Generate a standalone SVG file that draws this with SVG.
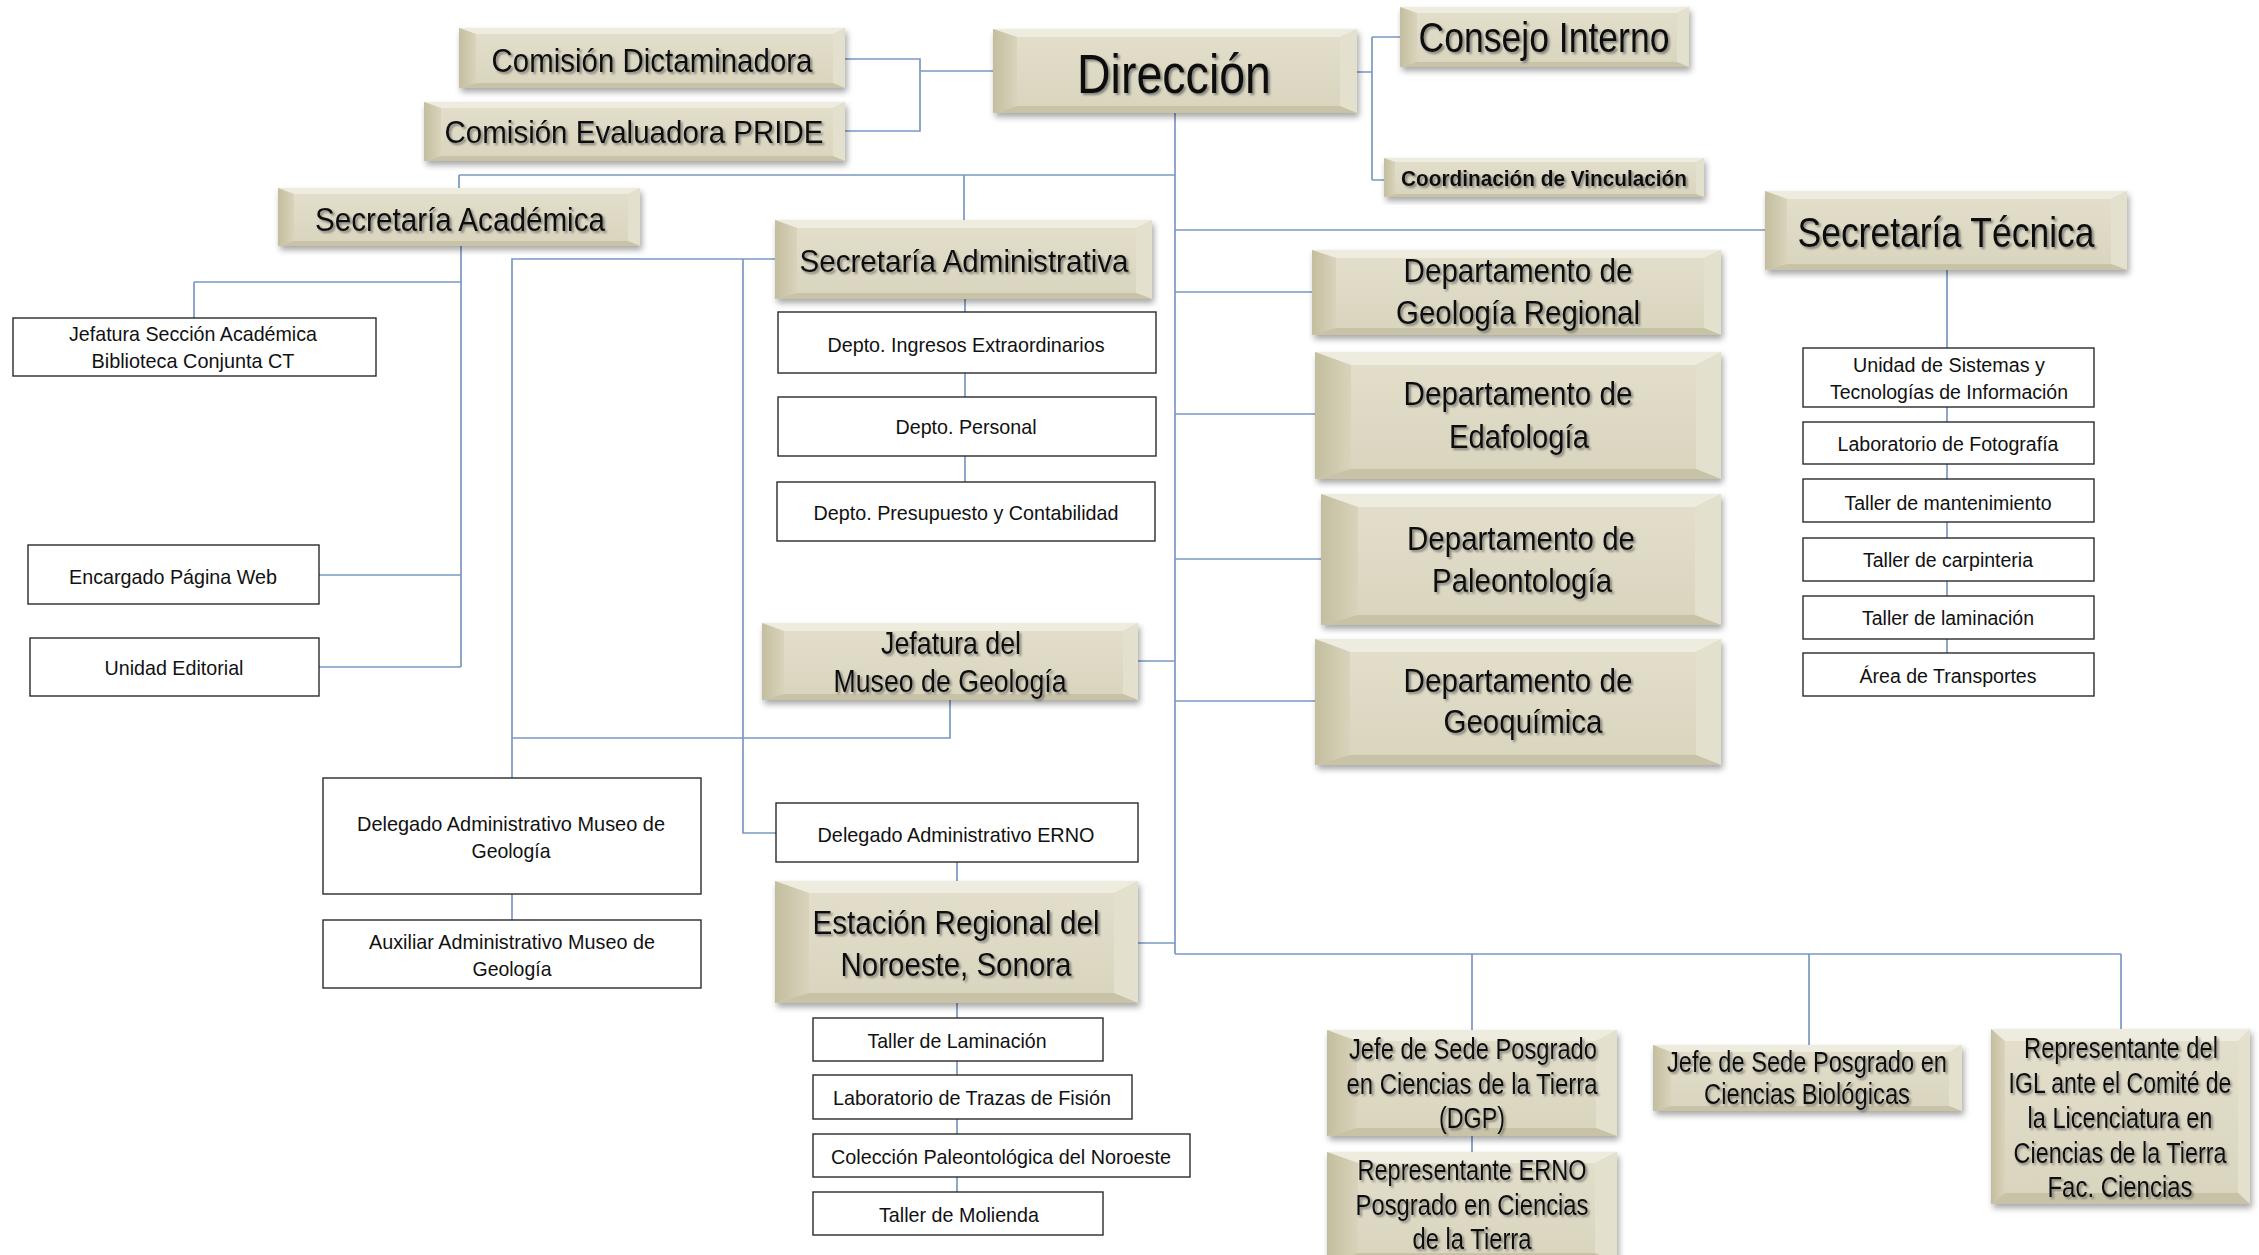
<svg xmlns="http://www.w3.org/2000/svg" width="2259" height="1255" viewBox="0 0 2259 1255">
<defs>
<linearGradient id="gl" x1="0" y1="0" x2="1" y2="0"><stop offset="0" stop-color="#c4be9f"/><stop offset="1" stop-color="#d8d3bb"/></linearGradient>
<linearGradient id="gf" x1="0" y1="0" x2="0" y2="1"><stop offset="0" stop-color="#e3dfcc"/><stop offset="1" stop-color="#d9d4bd"/></linearGradient>
<filter id="sh" x="-10%" y="-10%" width="120%" height="130%"><feDropShadow dx="2" dy="4" stdDeviation="3" flood-color="#000" flood-opacity="0.35"/></filter>
<filter id="ts" x="-5%" y="-10%" width="110%" height="130%"><feDropShadow dx="2" dy="2" stdDeviation="1.3" flood-color="#555" flood-opacity="0.65"/></filter>
</defs>
<style>
.c{fill:none;stroke:#7b98c2;stroke-width:1.7}
.bf{fill:url(#gf)}
.pt{fill:#eeebdf}
.pl{fill:url(#gl)}
.pr{fill:#e4e0ce}
.pb{fill:#c8c2a7}
.box{fill:#fff;stroke:#2a2a2a;stroke-width:1.4}
text{font-family:"Liberation Sans Narrow","Liberation Sans",Arial,sans-serif;fill:#111;text-anchor:middle}
.t{filter:url(#ts)}
.r{font-family:"Liberation Sans",Arial,sans-serif}
</style>
<g id="connectors">
<path class="c" d="M845,59 H920 V131 H845 M920,71 H993"/>
<path class="c" d="M1357,72 H1372 M1372,37 V180 M1372,37 H1400 M1372,180 H1384"/>
<path class="c" d="M1175,113 V954"/>
<path class="c" d="M459,175 H1175 M459,175 V188 M964,175 V220"/>
<path class="c" d="M1175,230 H1765"/>
<path class="c" d="M1947,270 V653"/>
<path class="c" d="M1175,292 H1312 M1175,414 H1315 M1175,559 H1321 M1175,701 H1315"/>
<path class="c" d="M1138,661 H1175 M1138,943 H1175"/>
<path class="c" d="M1175,954 H2121 M1472,954 V1030 M1809,954 V1045 M2121,954 V1029 M1472,1136 V1152"/>
<path class="c" d="M461,246 V667 M194,282 H461 M194,282 V318 M319,575 H461 M319,667 H461"/>
<path class="c" d="M965,299 V482"/>
<path class="c" d="M775,259 H512 V778 M743,259 V833 H776 M512,894 V920"/>
<path class="c" d="M950,700 V738 H512"/>
<path class="c" d="M957,862 V881 M957,1003 V1192"/>
</g>

<g id="comision-dictaminadora" filter="url(#sh)">
<rect class="bf" x="459" y="28" width="386" height="60"/>
<polygon class="pt" points="459,28 845,28 833,34 476,34"/><polygon class="pl" points="459,28 476,34 476,83 459,88"/><polygon class="pr" points="845,28 845,88 833,83 833,34"/><polygon class="pb" points="459,88 845,88 833,83 476,83"/>
</g>
<text class="t" x="652" y="72" font-size="33" textLength="321" lengthAdjust="spacingAndGlyphs">Comisión Dictaminadora</text>

<g id="comision-pride" filter="url(#sh)">
<rect class="bf" x="424" y="102" width="421" height="59"/>
<polygon class="pt" points="424,102 845,102 833,108 441,108"/><polygon class="pl" points="424,102 441,108 441,156 424,161"/><polygon class="pr" points="845,102 845,161 833,156 833,108"/><polygon class="pb" points="424,161 845,161 833,156 441,156"/>
</g>
<text class="t" x="634" y="143" font-size="32" textLength="379" lengthAdjust="spacingAndGlyphs">Comisión Evaluadora PRIDE</text>

<g id="direccion" filter="url(#sh)">
<rect class="bf" x="993" y="29" width="364" height="84"/>
<polygon class="pt" points="993,29 1357,29 1340,37 1017,37"/><polygon class="pl" points="993,29 1017,37 1017,106 993,113"/><polygon class="pr" points="1357,29 1357,113 1340,106 1340,37"/><polygon class="pb" points="993,113 1357,113 1340,106 1017,106"/>
</g>
<text class="t" x="1174" y="93" font-size="56" textLength="194" lengthAdjust="spacingAndGlyphs">Dirección</text>

<g id="consejo-interno" filter="url(#sh)">
<rect class="bf" x="1400" y="7" width="289" height="60"/>
<polygon class="pt" points="1400,7 1689,7 1677,13 1417,13"/><polygon class="pl" points="1400,7 1417,13 1417,62 1400,67"/><polygon class="pr" points="1689,7 1689,67 1677,62 1677,13"/><polygon class="pb" points="1400,67 1689,67 1677,62 1417,62"/>
</g>
<text class="t" x="1544" y="52" font-size="42" textLength="251" lengthAdjust="spacingAndGlyphs">Consejo Interno</text>

<g id="coordinacion-vinculacion" filter="url(#sh)">
<rect class="bf" x="1384" y="158" width="320" height="39"/>
<polygon class="pt" points="1384,158 1704,158 1696,162 1395,162"/><polygon class="pl" points="1384,158 1395,162 1395,194 1384,197"/><polygon class="pr" points="1704,158 1704,197 1696,194 1696,162"/><polygon class="pb" points="1384,197 1704,197 1696,194 1395,194"/>
</g>
<text class="t" x="1544" y="186" font-size="22" font-weight="bold" textLength="286" lengthAdjust="spacingAndGlyphs">Coordinación de Vinculación</text>

<g id="secretaria-tecnica" filter="url(#sh)">
<rect class="bf" x="1765" y="191" width="362" height="79"/>
<polygon class="pt" points="1765,191 2127,191 2111,199 1787,199"/><polygon class="pl" points="1765,191 1787,199 1787,264 1765,270"/><polygon class="pr" points="2127,191 2127,270 2111,264 2111,199"/><polygon class="pb" points="1765,270 2127,270 2111,264 1787,264"/>
</g>
<text class="t" x="1946" y="247" font-size="43" textLength="297" lengthAdjust="spacingAndGlyphs">Secretaría Técnica</text>

<g id="secretaria-academica" filter="url(#sh)">
<rect class="bf" x="278" y="188" width="362" height="58"/>
<polygon class="pt" points="278,188 640,188 628,194 294,194"/><polygon class="pl" points="278,188 294,194 294,241 278,246"/><polygon class="pr" points="640,188 640,246 628,241 628,194"/><polygon class="pb" points="278,246 640,246 628,241 294,241"/>
</g>
<text class="t" x="460" y="231" font-size="33" textLength="290" lengthAdjust="spacingAndGlyphs">Secretaría Académica</text>

<g id="secretaria-administrativa" filter="url(#sh)">
<rect class="bf" x="775" y="220" width="377" height="79"/>
<polygon class="pt" points="775,220 1152,220 1136,228 797,228"/><polygon class="pl" points="775,220 797,228 797,293 775,299"/><polygon class="pr" points="1152,220 1152,299 1136,293 1136,228"/><polygon class="pb" points="775,299 1152,299 1136,293 797,293"/>
</g>
<text class="t" x="964" y="272" font-size="32" textLength="329" lengthAdjust="spacingAndGlyphs">Secretaría Administrativa</text>

<g id="depto-geologia-regional" filter="url(#sh)">
<rect class="bf" x="1312" y="250" width="409" height="85"/>
<polygon class="pt" points="1312,250 1721,250 1704,258 1336,258"/><polygon class="pl" points="1312,250 1336,258 1336,328 1312,335"/><polygon class="pr" points="1721,250 1721,335 1704,328 1704,258"/><polygon class="pb" points="1312,335 1721,335 1704,328 1336,328"/>
</g>
<text class="t" x="1518" y="282" font-size="33" textLength="229" lengthAdjust="spacingAndGlyphs">Departamento de</text>
<text class="t" x="1518" y="324" font-size="33" textLength="244" lengthAdjust="spacingAndGlyphs">Geología Regional</text>

<g id="depto-edafologia" filter="url(#sh)">
<rect class="bf" x="1315" y="352" width="406" height="127"/>
<polygon class="pt" points="1315,352 1721,352 1696,365 1351,365"/><polygon class="pl" points="1315,352 1351,365 1351,469 1315,479"/><polygon class="pr" points="1721,352 1721,479 1696,469 1696,365"/><polygon class="pb" points="1315,479 1721,479 1696,469 1351,469"/>
</g>
<text class="t" x="1518" y="405" font-size="33" textLength="229" lengthAdjust="spacingAndGlyphs">Departamento de</text>
<text class="t" x="1519" y="448" font-size="33" textLength="140" lengthAdjust="spacingAndGlyphs">Edafología</text>

<g id="depto-paleontologia" filter="url(#sh)">
<rect class="bf" x="1321" y="494" width="400" height="131"/>
<polygon class="pt" points="1321,494 1721,494 1695,507 1358,507"/><polygon class="pl" points="1321,494 1358,507 1358,615 1321,625"/><polygon class="pr" points="1721,494 1721,625 1695,615 1695,507"/><polygon class="pb" points="1321,625 1721,625 1695,615 1358,615"/>
</g>
<text class="t" x="1521" y="550" font-size="33" textLength="228" lengthAdjust="spacingAndGlyphs">Departamento de</text>
<text class="t" x="1522" y="592" font-size="33" textLength="180" lengthAdjust="spacingAndGlyphs">Paleontología</text>

<g id="depto-geoquimica" filter="url(#sh)">
<rect class="bf" x="1315" y="639" width="406" height="126"/>
<polygon class="pt" points="1315,639 1721,639 1696,652 1350,652"/><polygon class="pl" points="1315,639 1350,652 1350,755 1315,765"/><polygon class="pr" points="1721,639 1721,765 1696,755 1696,652"/><polygon class="pb" points="1315,765 1721,765 1696,755 1350,755"/>
</g>
<text class="t" x="1518" y="692" font-size="33" textLength="229" lengthAdjust="spacingAndGlyphs">Departamento de</text>
<text class="t" x="1523" y="733" font-size="33" textLength="159" lengthAdjust="spacingAndGlyphs">Geoquímica</text>

<g id="jefatura-museo" filter="url(#sh)">
<rect class="bf" x="762" y="623" width="376" height="77"/>
<polygon class="pt" points="762,623 1138,623 1123,631 784,631"/><polygon class="pl" points="762,623 784,631 784,694 762,700"/><polygon class="pr" points="1138,623 1138,700 1123,694 1123,631"/><polygon class="pb" points="762,700 1138,700 1123,694 784,694"/>
</g>
<text class="t" x="951" y="654" font-size="32" textLength="140" lengthAdjust="spacingAndGlyphs">Jefatura del</text>
<text class="t" x="950" y="692" font-size="32" textLength="233" lengthAdjust="spacingAndGlyphs">Museo de Geología</text>

<g id="estacion-regional" filter="url(#sh)">
<rect class="bf" x="775" y="881" width="363" height="122"/>
<polygon class="pt" points="775,881 1138,881 1114,893 809,893"/><polygon class="pl" points="775,881 809,893 809,993 775,1003"/><polygon class="pr" points="1138,881 1138,1003 1114,993 1114,893"/><polygon class="pb" points="775,1003 1138,1003 1114,993 809,993"/>
</g>
<text class="t" x="956" y="934" font-size="34" textLength="287" lengthAdjust="spacingAndGlyphs">Estación Regional del</text>
<text class="t" x="956" y="976" font-size="34" textLength="231" lengthAdjust="spacingAndGlyphs">Noroeste, Sonora</text>

<g id="jefe-sede-ct" filter="url(#sh)">
<rect class="bf" x="1327" y="1030" width="290" height="106"/>
<polygon class="pt" points="1327,1030 1617,1030 1596,1041 1357,1041"/><polygon class="pl" points="1327,1030 1357,1041 1357,1128 1327,1136"/><polygon class="pr" points="1617,1030 1617,1136 1596,1128 1596,1041"/><polygon class="pb" points="1327,1136 1617,1136 1596,1128 1357,1128"/>
</g>
<text class="t" x="1473" y="1059" font-size="29" textLength="248" lengthAdjust="spacingAndGlyphs">Jefe de Sede Posgrado</text>
<text class="t" x="1472" y="1094" font-size="29" textLength="251" lengthAdjust="spacingAndGlyphs">en Ciencias de la Tierra</text>
<text class="t" x="1472" y="1128" font-size="29" textLength="66" lengthAdjust="spacingAndGlyphs">(DGP)</text>

<g id="representante-erno" filter="url(#sh)">
<rect class="bf" x="1327" y="1152" width="290" height="110"/>
<polygon class="pt" points="1327,1152 1617,1152 1595,1163 1358,1163"/><polygon class="pl" points="1327,1152 1358,1163 1358,1253 1327,1262"/><polygon class="pr" points="1617,1152 1617,1262 1595,1253 1595,1163"/><polygon class="pb" points="1327,1262 1617,1262 1595,1253 1358,1253"/>
</g>
<text class="t" x="1472" y="1180" font-size="29" textLength="229" lengthAdjust="spacingAndGlyphs">Representante ERNO</text>
<text class="t" x="1472" y="1215" font-size="29" textLength="233" lengthAdjust="spacingAndGlyphs">Posgrado en Ciencias</text>
<text class="t" x="1472" y="1249" font-size="29" textLength="119" lengthAdjust="spacingAndGlyphs">de la Tierra</text>

<g id="jefe-sede-cb" filter="url(#sh)">
<rect class="bf" x="1653" y="1045" width="309" height="66"/>
<polygon class="pt" points="1653,1045 1962,1045 1949,1052 1671,1052"/><polygon class="pl" points="1653,1045 1671,1052 1671,1106 1653,1111"/><polygon class="pr" points="1962,1045 1962,1111 1949,1106 1949,1052"/><polygon class="pb" points="1653,1111 1962,1111 1949,1106 1671,1106"/>
</g>
<text class="t" x="1807" y="1072" font-size="29" textLength="280" lengthAdjust="spacingAndGlyphs">Jefe de Sede Posgrado en</text>
<text class="t" x="1807" y="1104" font-size="29" textLength="206" lengthAdjust="spacingAndGlyphs">Ciencias Biológicas</text>

<g id="representante-igl" filter="url(#sh)">
<rect class="bf" x="1991" y="1029" width="259" height="175"/>
<polygon class="pt" points="1991,1029 2250,1029 2238,1041 2005,1041"/><polygon class="pl" points="1991,1029 2005,1041 2005,1193 1991,1204"/><polygon class="pr" points="2250,1029 2250,1204 2238,1193 2238,1041"/><polygon class="pb" points="1991,1204 2250,1204 2238,1193 2005,1193"/>
</g>
<text class="t" x="2121" y="1058" font-size="29" textLength="194" lengthAdjust="spacingAndGlyphs">Representante del</text>
<text class="t r" transform="translate(2120,1093) scale(0.79,1)" x="0" y="0" font-size="29" textLength="282" lengthAdjust="spacingAndGlyphs">IGL ante el Comité de</text>
<text class="t" x="2120" y="1128" font-size="29" textLength="185" lengthAdjust="spacingAndGlyphs">la Licenciatura en</text>
<text class="t r" transform="translate(2120,1163) scale(0.8,1)" x="0" y="0" font-size="29" textLength="266" lengthAdjust="spacingAndGlyphs">Ciencias de la Tierra</text>
<text class="t" x="2120" y="1197" font-size="29" textLength="145" lengthAdjust="spacingAndGlyphs">Fac. Ciencias</text>

<g id="jefatura-seccion-academica"><rect class="box" x="13" y="318" width="363" height="58"/>
<text x="193" y="341" font-size="21" textLength="248" lengthAdjust="spacingAndGlyphs">Jefatura Sección Académica</text>
<text x="193" y="368" font-size="21" textLength="203" lengthAdjust="spacingAndGlyphs">Biblioteca Conjunta CT</text></g>
<g id="encargado-web"><rect class="box" x="28" y="545" width="291" height="59"/>
<text x="173" y="584" font-size="21" textLength="208" lengthAdjust="spacingAndGlyphs">Encargado Página Web</text></g>
<g id="unidad-editorial"><rect class="box" x="30" y="638" width="289" height="58"/>
<text x="174" y="675" font-size="21" textLength="139" lengthAdjust="spacingAndGlyphs">Unidad Editorial</text></g>

<g id="depto-ingresos"><rect class="box" x="778" y="312" width="378" height="61"/>
<text x="966" y="352" font-size="21" textLength="277" lengthAdjust="spacingAndGlyphs">Depto. Ingresos Extraordinarios</text></g>
<g id="depto-personal"><rect class="box" x="778" y="397" width="378" height="59"/>
<text x="966" y="434" font-size="21" textLength="141" lengthAdjust="spacingAndGlyphs">Depto. Personal</text></g>
<g id="depto-presupuesto"><rect class="box" x="777" y="482" width="378" height="59"/>
<text x="966" y="520" font-size="21" textLength="305" lengthAdjust="spacingAndGlyphs">Depto. Presupuesto y Contabilidad</text></g>

<g id="delegado-museo"><rect class="box" x="323" y="778" width="378" height="116"/>
<text x="511" y="831" font-size="21" textLength="308" lengthAdjust="spacingAndGlyphs">Delegado Administrativo Museo de</text>
<text x="511" y="858" font-size="21" textLength="79" lengthAdjust="spacingAndGlyphs">Geología</text></g>
<g id="auxiliar-museo"><rect class="box" x="323" y="920" width="378" height="68"/>
<text x="512" y="949" font-size="21" textLength="286" lengthAdjust="spacingAndGlyphs">Auxiliar Administrativo Museo de</text>
<text x="512" y="976" font-size="21" textLength="79" lengthAdjust="spacingAndGlyphs">Geología</text></g>
<g id="delegado-erno"><rect class="box" x="776" y="803" width="362" height="59"/>
<text x="956" y="842" font-size="21" textLength="277" lengthAdjust="spacingAndGlyphs">Delegado Administrativo ERNO</text></g>

<g id="taller-laminacion-erno"><rect class="box" x="813" y="1018" width="290" height="43"/>
<text x="957" y="1048" font-size="21" textLength="179" lengthAdjust="spacingAndGlyphs">Taller de Laminación</text></g>
<g id="lab-trazas"><rect class="box" x="813" y="1075" width="319" height="44"/>
<text x="972" y="1105" font-size="21" textLength="278" lengthAdjust="spacingAndGlyphs">Laboratorio de Trazas de Fisión</text></g>
<g id="coleccion-paleontologica"><rect class="box" x="813" y="1134" width="377" height="43"/>
<text x="1001" y="1164" font-size="21" textLength="340" lengthAdjust="spacingAndGlyphs">Colección Paleontológica del Noroeste</text></g>
<g id="taller-molienda"><rect class="box" x="813" y="1192" width="290" height="43"/>
<text x="959" y="1222" font-size="21" textLength="160" lengthAdjust="spacingAndGlyphs">Taller de Molienda</text></g>

<g id="unidad-sistemas"><rect class="box" x="1803" y="348" width="291" height="59"/>
<text class="r" x="1949" y="372" font-size="19.5" textLength="192" lengthAdjust="spacingAndGlyphs">Unidad de Sistemas y</text>
<text class="r" x="1949" y="399" font-size="19.5" textLength="238" lengthAdjust="spacingAndGlyphs">Tecnologías de Información</text></g>
<g id="lab-fotografia"><rect class="box" x="1803" y="422" width="291" height="42"/>
<text class="r" x="1948" y="451" font-size="19.5" textLength="221" lengthAdjust="spacingAndGlyphs">Laboratorio de Fotografía</text></g>
<g id="taller-mantenimiento"><rect class="box" x="1803" y="479" width="291" height="43"/>
<text class="r" x="1948" y="510" font-size="19.5" textLength="207" lengthAdjust="spacingAndGlyphs">Taller de mantenimiento</text></g>
<g id="taller-carpinteria"><rect class="box" x="1803" y="538" width="291" height="43"/>
<text class="r" x="1948" y="567" font-size="19.5" textLength="170" lengthAdjust="spacingAndGlyphs">Taller de carpinteria</text></g>
<g id="taller-laminacion"><rect class="box" x="1803" y="596" width="291" height="43"/>
<text class="r" x="1948" y="625" font-size="19.5" textLength="172" lengthAdjust="spacingAndGlyphs">Taller de laminación</text></g>
<g id="area-transportes"><rect class="box" x="1803" y="653" width="291" height="43"/>
<text class="r" x="1948" y="683" font-size="19.5" textLength="177" lengthAdjust="spacingAndGlyphs">Área de Transportes</text></g>
</svg>
